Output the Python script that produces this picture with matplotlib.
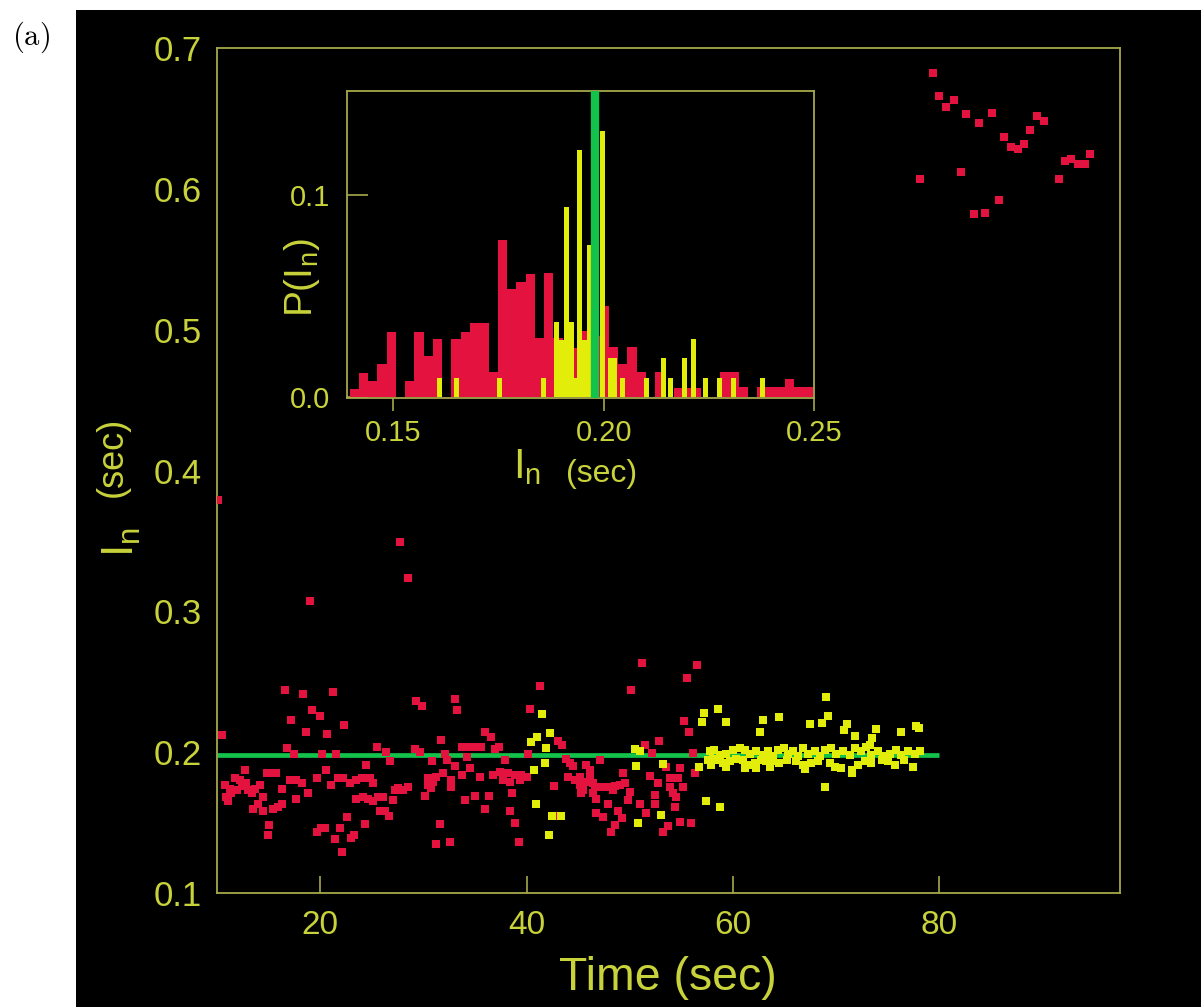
import numpy as np
import matplotlib
matplotlib.use('Agg')
import matplotlib.pyplot as plt
from matplotlib.patches import Rectangle

plt.rcParams['font.family'] = ['Liberation Sans', 'DejaVu Sans']
plt.rcParams['mathtext.fontset'] = 'custom'
plt.rcParams['mathtext.rm'] = 'Liberation Sans'

TXT = '#c8d23a'
FRAME = '#a6a84a'
RED = '#e3123f'
YEL = '#e2ee0a'
GREEN = '#12c24a'

# ---- main panel: interval I_n (sec) vs time (sec) ----
red_early = [
    (10.1, 0.379), (27.7, 0.349), (28.5, 0.324), (19.0, 0.307),
    (10.5, 0.212), (16.6, 0.244), (18.35, 0.241), (21.2, 0.243), (19.2, 0.230), (20.0, 0.226),
    (17.2, 0.223), (22.35, 0.219), (18.6, 0.214), (20.7, 0.213), (16.8, 0.203), (17.45, 0.199),
    (20.2, 0.199), (21.5, 0.199), (25.5, 0.204), (26.4, 0.200), (26.8, 0.194), (24.4, 0.191),
    (20.55, 0.187), (12.7, 0.187),
    (10.8, 0.177), (11.25, 0.174), (11.75, 0.182), (12.2, 0.180), (12.85, 0.178), (10.9, 0.168),
    (11.4, 0.171), (11.9, 0.173), (12.4, 0.176), (13.0, 0.173), (13.35, 0.171), (13.65, 0.174),
    (14.15, 0.177), (14.5, 0.168), (11.1, 0.165), (13.5, 0.160), (14.0, 0.163), (14.5, 0.158),
    (14.8, 0.185), (15.3, 0.185), (15.75, 0.185), (16.25, 0.174), (17.05, 0.180), (17.7, 0.180),
    (18.2, 0.178), (17.65, 0.167), (18.85, 0.171), (19.65, 0.182), (15.45, 0.160), (15.9, 0.161),
    (16.25, 0.163), (15.05, 0.148), (14.95, 0.141), (19.65, 0.143), (20.1, 0.146), (20.45, 0.146),
    (21.0, 0.177), (21.75, 0.182), (22.2, 0.182), (22.85, 0.178), (23.5, 0.180), (24.0, 0.182),
    (24.8, 0.182), (25.1, 0.178), (23.5, 0.167), (24.15, 0.168), (24.65, 0.167), (25.1, 0.165),
    (25.6, 0.168), (26.1, 0.168), (25.75, 0.158), (26.25, 0.158), (26.7, 0.155), (27.05, 0.166),
    (27.2, 0.173), (22.6, 0.154), (24.3, 0.149), (21.9, 0.146), (21.45, 0.138), (23.0, 0.139),
    (23.25, 0.141), (22.15, 0.129),
]

red_mid = [
    (41.3, 0.247), (29.25, 0.236), (29.9, 0.233), (33.1, 0.238), (33.3, 0.230), (40.3, 0.231),
    (36.0, 0.214), (36.5, 0.211), (31.7, 0.209), (43.05, 0.208), (43.4, 0.205), (29.2, 0.202),
    (29.65, 0.200), (33.7, 0.204), (34.35, 0.204), (35.0, 0.204), (35.6, 0.2035), (36.9, 0.202),
    (37.3, 0.204), (32.1, 0.199), (32.25, 0.1945), (30.8, 0.194), (34.2, 0.1965), (37.9, 0.1945),
    (40.1, 0.199), (43.85, 0.195), (44.2, 0.192), (44.5, 0.190), (33.05, 0.190), (34.5, 0.1885),
    (31.9, 0.1855), (30.45, 0.1815), (30.95, 0.179), (31.25, 0.1825), (32.7, 0.180), (33.7, 0.184),
    (35.45, 0.1825), (36.75, 0.184), (37.4, 0.186), (38.2, 0.185), (38.85, 0.184), (39.5, 0.184),
    (37.7, 0.180), (38.35, 0.179), (39.35, 0.180), (40.0, 0.1825), (44.0, 0.1825), (44.65, 0.180),
    (45.15, 0.1765), (27.55, 0.1745), (28.05, 0.173), (28.55, 0.1755), (30.45, 0.1765), (30.7, 0.1745),
    (32.65, 0.1755), (30.15, 0.169), (34.0, 0.166), (35.0, 0.169), (36.35, 0.169), (38.55, 0.171),
    (42.7, 0.176), (45.3, 0.172), (35.95, 0.160), (38.35, 0.158), (38.9, 0.1495), (31.6, 0.149),
    (31.25, 0.135), (32.55, 0.136), (39.25, 0.136), (42.95, 0.155),
    (51.2, 0.2635), (56.5, 0.262), (55.5, 0.253), (50.15, 0.244), (55.25, 0.222), (55.75, 0.2145),
    (52.85, 0.208), (51.45, 0.205), (52.1, 0.1995), (56.15, 0.1995), (47.15, 0.1945), (45.8, 0.191),
    (46.15, 0.1875), (45.15, 0.1825), (45.65, 0.179), (46.15, 0.1815), (46.45, 0.178), (45.5, 0.173),
    (45.3, 0.171), (49.35, 0.1855), (53.55, 0.1895), (54.85, 0.1885), (56.3, 0.1855), (51.95, 0.183),
    (52.75, 0.178), (53.85, 0.1815), (54.7, 0.1815), (46.6, 0.1755), (47.1, 0.1755), (47.6, 0.1755),
    (48.05, 0.1755), (48.55, 0.176), (49.05, 0.1765), (49.5, 0.178), (46.45, 0.171), (46.75, 0.167),
    (50.0, 0.172), (49.85, 0.166), (48.4, 0.173), (53.85, 0.1755), (54.2, 0.171), (55.15, 0.1755),
    (52.4, 0.1695), (52.4, 0.1635), (54.5, 0.1685), (47.9, 0.163), (50.95, 0.1635), (54.35, 0.161),
    (46.75, 0.1565), (47.4, 0.154), (48.85, 0.158), (49.2, 0.153), (51.6, 0.1565), (48.55, 0.148),
    (48.2, 0.1435), (54.85, 0.1505), (55.95, 0.150), (53.7, 0.1475), (53.2, 0.1435),
]

red_jump = [
    (79.4, 0.682), (80.0, 0.666), (81.4, 0.663), (80.65, 0.658), (82.6, 0.653), (83.8, 0.647),
    (85.05, 0.654), (89.5, 0.652), (90.1, 0.6485), (88.8, 0.642), (86.3, 0.637), (86.95, 0.630),
    (87.6, 0.628), (88.2, 0.632), (78.1, 0.607), (82.05, 0.612), (91.55, 0.607), (92.2, 0.620),
    (92.75, 0.621), (93.45, 0.618), (94.1, 0.618), (94.6, 0.625), (85.75, 0.592), (83.35, 0.582),
    (84.45, 0.583),
]

yellow_mid = [
    (41.5, 0.227), (42.25, 0.2135), (41.05, 0.2105), (40.45, 0.207), (41.9, 0.203), (41.75, 0.192),
    (40.7, 0.1875), (40.95, 0.163), (42.45, 0.155), (43.35, 0.155), (42.2, 0.141),
    (58.55, 0.231), (57.15, 0.2275), (56.95, 0.2215), (59.3, 0.2215), (62.9, 0.2225), (62.6, 0.2145),
    (50.5, 0.202), (50.95, 0.2005), (50.6, 0.190), (53.2, 0.1915), (56.7, 0.1895), (57.4, 0.165),
    (58.75, 0.161), (53.05, 0.1555), (50.8, 0.1495),
    (57.75, 0.2005), (58.2, 0.2015), (58.7, 0.198), (59.35, 0.199), (60.0, 0.2015), (60.65, 0.203),
    (61.15, 0.2015), (61.6, 0.199), (62.25, 0.2005), (62.9, 0.198), (63.4, 0.197), (57.6, 0.1945),
    (58.05, 0.1955), (58.55, 0.1945), (59.05, 0.192), (59.7, 0.1935), (60.3, 0.1955), (60.95, 0.1945),
    (61.45, 0.191), (62.1, 0.192), (62.75, 0.1945), (63.2, 0.1935), (57.9, 0.191), (59.35, 0.1895),
    (61.15, 0.1885), (62.25, 0.1885),
]

yellow_late = [
    (69.05, 0.239), (64.45, 0.225), (69.2, 0.2255), (67.45, 0.220), (68.6, 0.221), (71.0, 0.220),
    (70.75, 0.2155), (73.9, 0.2165), (76.3, 0.2145), (77.75, 0.2185), (78.0, 0.217), (71.85, 0.2115),
    (73.45, 0.210), (73.25, 0.205), (68.9, 0.175),
    (63.4, 0.2005), (63.9, 0.197), (64.4, 0.2015), (64.9, 0.203), (65.3, 0.199), (65.8, 0.2005),
    (66.3, 0.197), (66.8, 0.203), (67.3, 0.199), (67.9, 0.2005), (68.4, 0.197), (68.9, 0.2015),
    (69.5, 0.203), (70.0, 0.199), (70.7, 0.2005), (71.3, 0.198), (71.8, 0.203), (72.4, 0.2005),
    (72.9, 0.204), (73.4, 0.198), (74.0, 0.2005), (74.5, 0.197), (75.2, 0.199), (75.8, 0.2015),
    (76.3, 0.198), (76.95, 0.2005), (77.6, 0.199), (78.1, 0.2005),
    (63.7, 0.1935), (64.5, 0.192), (65.2, 0.1945), (66.1, 0.1935), (66.8, 0.191), (67.6, 0.192),
    (68.2, 0.1935), (69.4, 0.192), (69.9, 0.1895), (70.5, 0.1885), (71.5, 0.1875), (72.1, 0.191),
    (72.8, 0.1935), (73.4, 0.192), (74.4, 0.1945), (75.0, 0.1935), (75.7, 0.191), (76.6, 0.1945),
    (77.4, 0.1895), (63.6, 0.1895), (67.0, 0.188), (71.5, 0.185),
]

mean_interval = 0.198   # green reference level
mean_t_range = (10, 80)

# ---- inset: histograms P(I_n) ----
red_bin_start = 0.1396
red_bin_width = 0.0022
red_hist = [0.0036, 0.0119, 0.0075, 0.0163, 0.0323, 0.0, 0.0078, 0.0323, 0.0202, 0.0285,
            0.0, 0.0285, 0.0323, 0.0368, 0.0368, 0.0124, 0.0776, 0.0534, 0.0572, 0.0610,
            0.0290, 0.0614, 0.0290, 0.0200, 0.0240, 0.0327, 0.0300, 0.0448, 0.0245, 0.0163,
            0.0245, 0.0124, 0.0, 0.0124, 0.0, 0.0041, 0.0041, 0.0041, 0.0, 0.0,
            0.0124, 0.0124, 0.0046, 0.0, 0.0046, 0.0046, 0.0046, 0.0086, 0.0046, 0.0046]

yellow_bins = [0.1609, 0.1649, 0.1751, 0.1857, 0.1888, 0.1900, 0.1912, 0.1923, 0.1931, 0.1942,
               0.1955, 0.1967, 0.1981, 0.1997, 0.2015, 0.2026, 0.2044, 0.2102, 0.2142, 0.2158,
               0.2191, 0.2214, 0.2241, 0.2275, 0.2307, 0.2376]
yellow_hist = [0.0094, 0.0094, 0.0094, 0.0094, 0.0373, 0.0280, 0.0940, 0.0373, 0.0094, 0.1224,
               0.0280, 0.0755, 0.0500, 0.1318, 0.0190, 0.0190, 0.0094, 0.0094, 0.0190, 0.0094,
               0.0190, 0.0285, 0.0094, 0.0094, 0.0094, 0.0094]

fig = plt.figure(figsize=(12.01, 10.07), dpi=100)
fig.patch.set_facecolor('white')
fig.add_artist(Rectangle((0.0633, 0.0), 0.9367, 0.990, transform=fig.transFigure,
                         facecolor='black', edgecolor='none', zorder=-10))

ax = fig.add_axes([0.1807, 0.1132, 0.7519, 0.8391])
ax.set_facecolor('black')
ax.plot(mean_t_range, [mean_interval, mean_interval], color=GREEN, lw=3.4, zorder=2,
        solid_capstyle='butt')
for pts, col in [(red_early, RED), (red_mid, RED), (red_jump, RED),
                 (yellow_mid, YEL), (yellow_late, YEL)]:
    a = np.array(pts)
    ax.scatter(a[:, 0], a[:, 1], marker='s', s=38, c=col, linewidths=0, zorder=3)
ax.set_xlim(10, 97.5)
ax.set_ylim(0.1, 0.7)
ax.set_xticks([20, 40, 60, 80])
ax.set_yticks([0.1, 0.2, 0.3, 0.4, 0.5, 0.6, 0.7])
ax.set_yticklabels(['0.1', '0.2', '0.3', '0.4', '0.5', '0.6', '0.7'])
for s in ax.spines.values():
    s.set_color(FRAME)
    s.set_linewidth(1.3)
ax.tick_params(axis='x', direction='in', length=12, width=1.2, color=FRAME,
               labelcolor=TXT, labelsize=24, pad=12)
ax.tick_params(axis='y', length=0, labelcolor=TXT, labelsize=25, pad=11)

fig.text(668 / 1201, 1 - 978 / 1007, 'Time (sec)', color=TXT, fontsize=33.5,
         ha='center', va='center')
fig.text(122 / 1201, 1 - 557 / 1007, r'$\mathregular{I_n}$', color=TXT, fontsize=32,
         rotation=90, ha='center', va='bottom')
fig.text(112 / 1201, 1 - 497 / 1007, '(sec)', color=TXT, fontsize=26,
         rotation=90, ha='center', va='bottom')

fig.text(31 / 1201, 1 - 37 / 1007, r'$\mathrm{(a)}$', color='black', fontsize=22,
         math_fontfamily='cm', ha='center', va='center')

# inset
ax2 = fig.add_axes([0.289, 0.6048, 0.389, 0.305])
ax2.set_facecolor('black')
red_edges = red_bin_start + red_bin_width * np.arange(len(red_hist))
ax2.bar(red_edges, red_hist, width=red_bin_width, align='edge', color=RED,
        linewidth=0, zorder=2)
ax2.bar(yellow_bins, yellow_hist, width=0.0012, color=YEL, linewidth=0, zorder=3)
ax2.axvline(mean_interval, color=GREEN, lw=6, zorder=4)
ax2.set_xlim(0.139, 0.25)
ax2.set_ylim(-0.0007, 0.152)
ax2.set_xticks([0.15, 0.20, 0.25])
ax2.set_xticklabels(['0.15', '0.20', '0.25'])
ax2.set_yticks([0.0, 0.1])
ax2.set_yticklabels(['0.0', '0.1'])
for s in ax2.spines.values():
    s.set_color(FRAME)
    s.set_linewidth(1.3)
ax2.tick_params(axis='x', direction='out', length=9, width=1.2, color=FRAME,
                labelcolor=TXT, labelsize=21, pad=6)
ax2.tick_params(axis='y', direction='in', length=15, width=1.2, color=FRAME,
                labelcolor=TXT, labelsize=21, pad=12)

fig.text(527 / 1201, 1 - 478 / 1007, r'$\mathregular{I_n}$', color=TXT, fontsize=30,
         ha='center', va='baseline')
fig.text(602 / 1201, 1 - 482 / 1007, '(sec)', color=TXT, fontsize=23,
         ha='center', va='baseline')
fig.text(302 / 1201, 1 - 278 / 1007, r'P(I$_\mathregular{n}$)', color=TXT, fontsize=28,
         rotation=90, ha='center', va='center')

fig.savefig('out.png', dpi=100, facecolor=fig.get_facecolor())
